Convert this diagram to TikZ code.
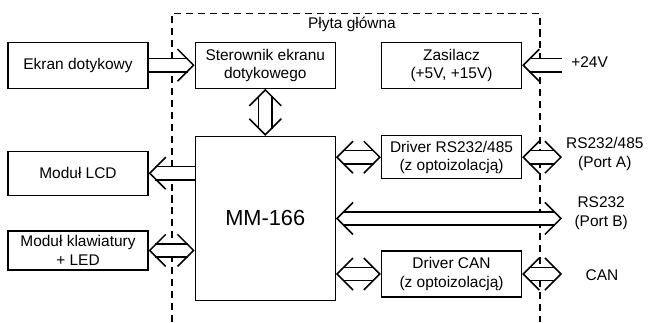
\documentclass[tikz,border=0pt]{standalone}
\usepackage{fontspec}
\setmainfont{Liberation Sans}
\usetikzlibrary{positioning,arrows.meta}

\begin{document}
\begin{tikzpicture}[
    font=\fontsize{11}{13}\selectfont,
    line width=0.9pt,
    box/.style={draw,align=center,minimum width=3.5cm,minimum height=1.15cm,inner sep=2pt},
    bus/.style={draw,double,double distance=0.29cm,line width=1.1pt},
    busto/.style={bus,shorten >=1.7mm},
    busboth/.style={bus,shorten >=1.7mm,shorten <=1.7mm},
    barb/.tip={Straight Barb[color=black,line width=1.1pt,length=0.4cm,width=0.8cm]},
    headto/.style={draw=white,line width=0.1pt,-barb},
    headboth/.style={draw=white,line width=0.1pt,barb-barb},
    frame/.style={draw,dashed,dash pattern=on 5pt off 3.5pt,line width=0.8pt},
    port/.style={align=center}
]
\useasboundingbox (0,0) rectangle (16.2,8.05);

% plyta glowna
\draw[frame] (4.3,0) |- (13.5,7.72) -- (13.5,0);
\node (plyta) at (8.8,7.43) {Płyta główna};

\node[box] (ekran) at (1.95,6.42) {Ekran dotykowy};
\node[box,right=1.15cm of ekran] (sterownik) {Sterownik ekranu\\dotykowego};
\node[box,right=1.125cm of sterownik] (zasilacz) {Zasilacz\\(+5V, +15V)};
\node[box,below=1.175cm of sterownik,minimum height=4.1cm,
      font=\fontsize{15.5}{18}\selectfont] (mm) {MM-166};

\node[box,minimum height=1.1cm] (lcd) at (1.95,3.72) {Moduł LCD};
\node[box,minimum height=0.975cm] (klaw) at (1.95,1.79) {Moduł klawiatury\\+ LED};
\node[box,minimum height=1.075cm] (rs) at (zasilacz |- 0,4.12) {Driver RS232/485\\(z optoizolacją)};
\node[box] (can) at (zasilacz |- 0,1.2) {Driver CAN\\(z optoizolacją)};

\coordinate (edge) at (14.05,0);
\node[anchor=west] (v24) at (14.15,6.5) {+24V};
\node[port] (porta) at (15.12,4.2) {RS232/485\\(Port A)};
\node[port] (portb) at (15.03,2.72) {RS232\\(Port B)};
\node (canl) at (15.05,1.17) {CAN};

% magistrale
\draw[busto] (ekran) -- (sterownik);
\draw[busboth] (sterownik) -- (mm);
\draw[busto] (zasilacz.east -| edge) -- (zasilacz.east);
\draw[busto] (mm.west |- lcd.east) -- (lcd.east);
\draw[busboth] (mm.west |- klaw.east) -- (klaw.east);
\draw[busboth] (mm.east |- rs.west) -- (rs.west);
\draw[busboth] (rs.east) -- (rs.east -| edge);
\draw[busboth] (mm.east) -- (mm.east -| edge);
\draw[busboth] (mm.east |- can.west) -- (can.west);
\draw[busboth] (can.east) -- (can.east -| edge);

% groty
\draw[headto] (ekran) -- (sterownik);
\draw[headboth] (sterownik) -- (mm);
\draw[headto] (zasilacz.east -| edge) -- (zasilacz.east);
\draw[headto] (mm.west |- lcd.east) -- (lcd.east);
\draw[headboth] (mm.west |- klaw.east) -- (klaw.east);
\draw[headboth] (mm.east |- rs.west) -- (rs.west);
\draw[headboth] (rs.east) -- (rs.east -| edge);
\draw[headboth] (mm.east) -- (mm.east -| edge);
\draw[headboth] (mm.east |- can.west) -- (can.west);
\draw[headboth] (can.east) -- (can.east -| edge);

\end{tikzpicture}
\end{document}
